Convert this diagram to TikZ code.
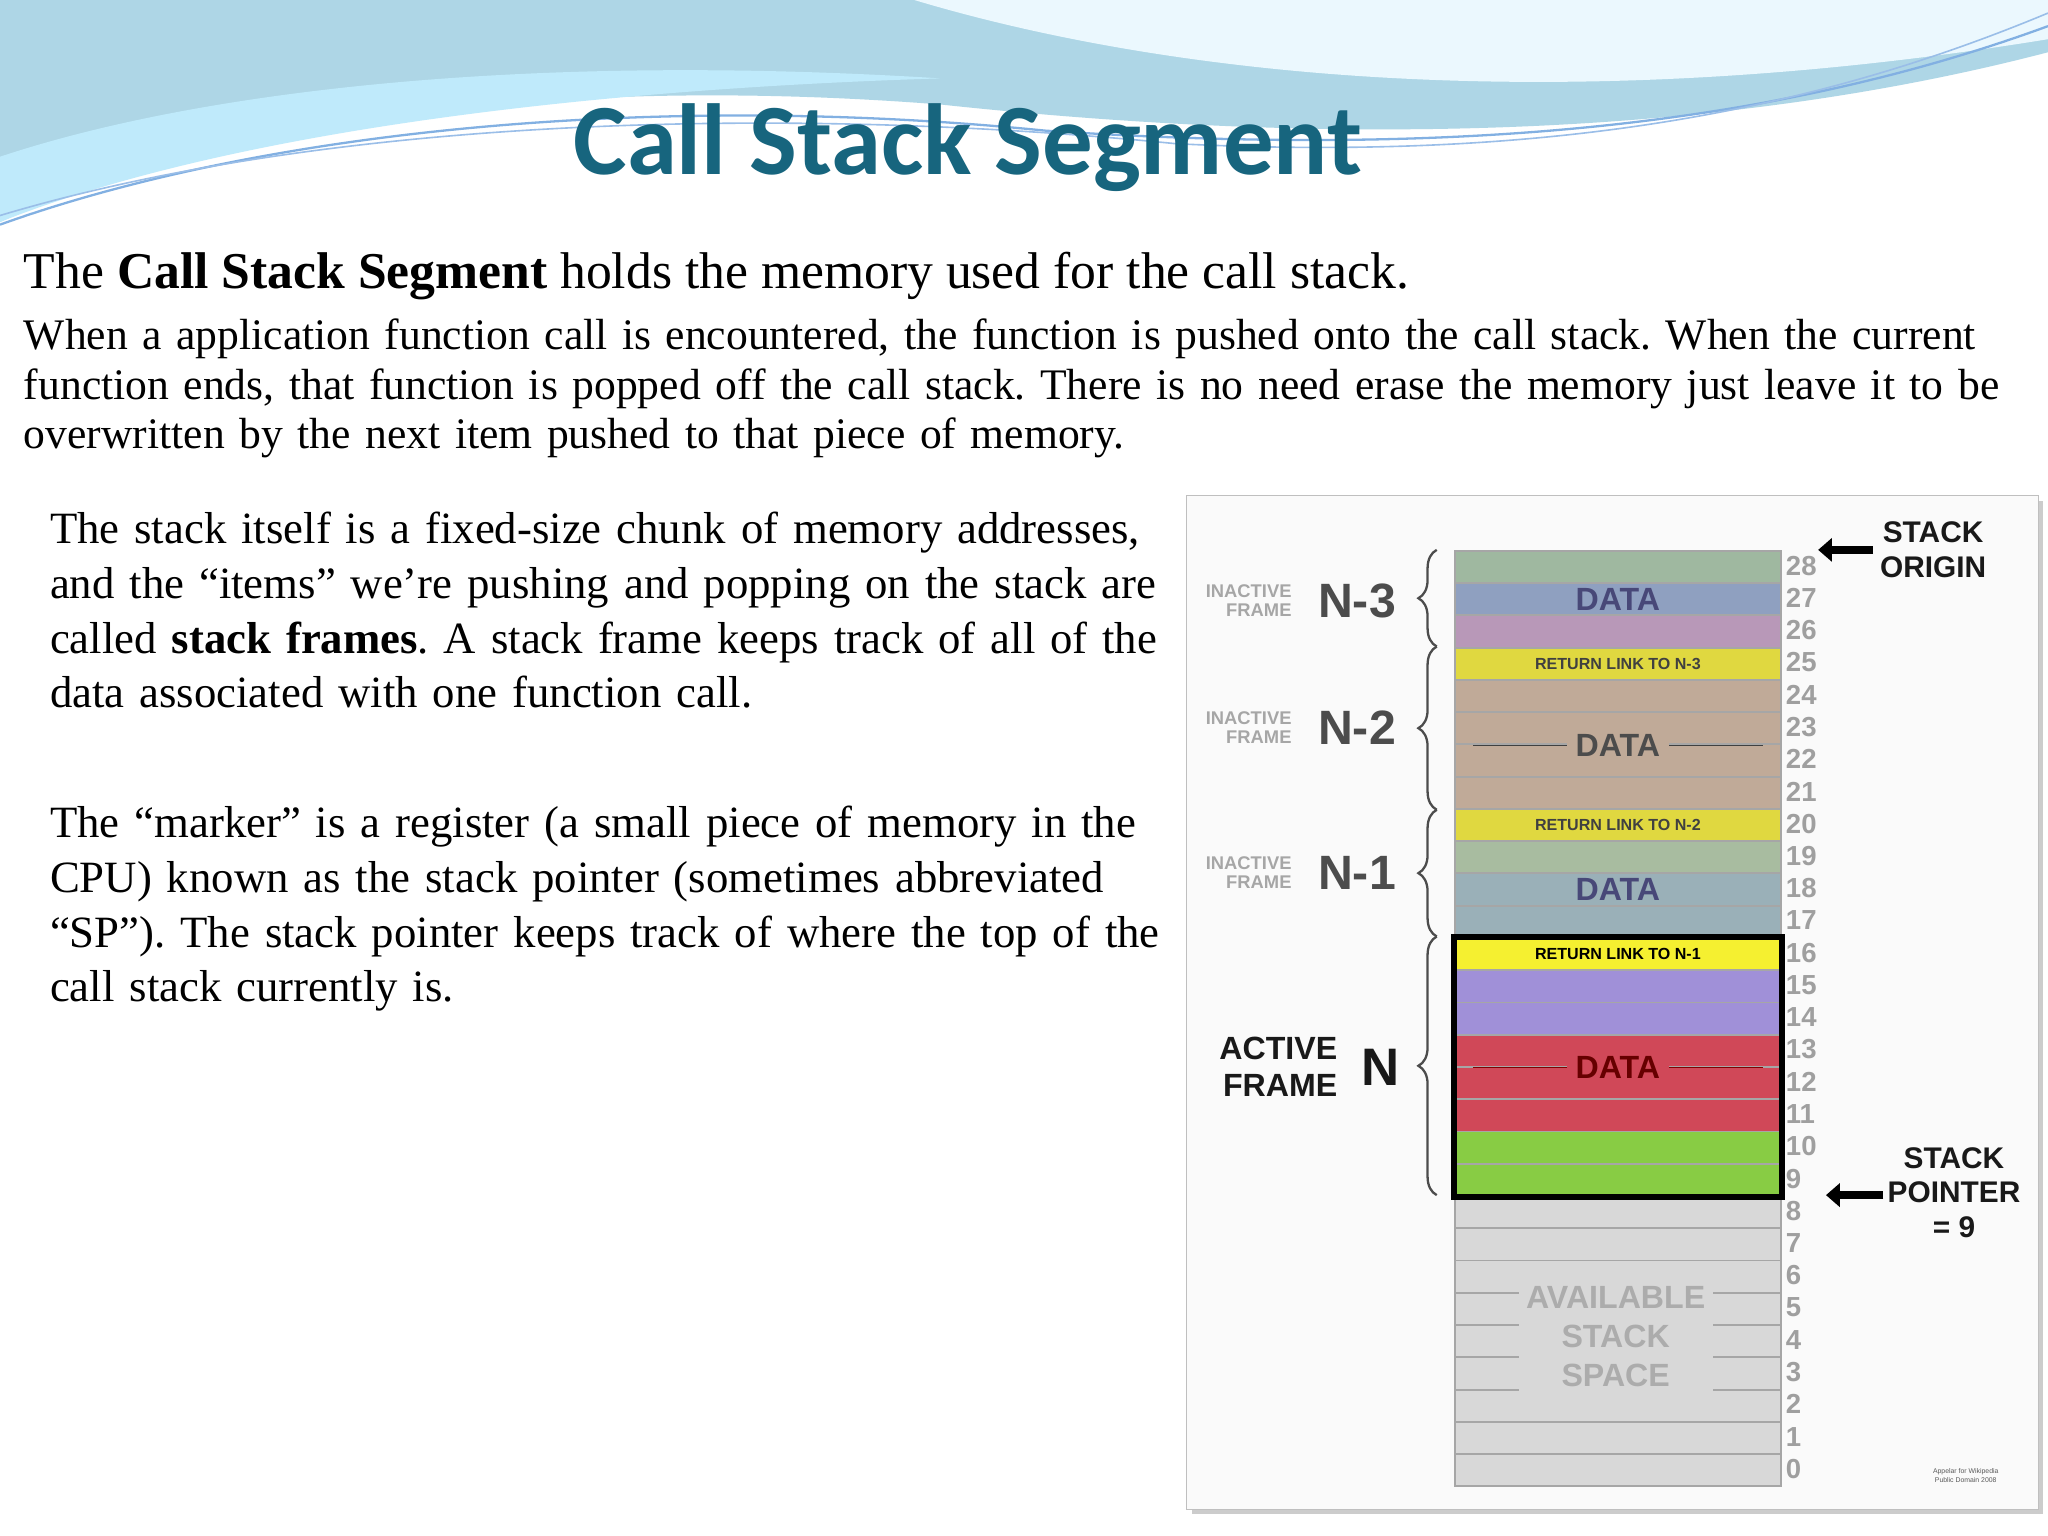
\documentclass[tikz,border=0pt]{standalone}
\usepackage{fontspec}
\setmainfont{Liberation Serif}
\newfontfamily\titlefont{Carlito}
\newfontfamily\dfont{Liberation Sans}
\usetikzlibrary{decorations.pathreplacing,arrows.meta,shadows}
\definecolor{titleblue}{HTML}{17657E}
\definecolor{avail}{HTML}{D8D8D8}
\definecolor{tanc}{HTML}{C0AA98}
\definecolor{redc}{HTML}{D04858}
\frenchspacing
\begin{document}
\begin{tikzpicture}[x=0.02cm,y=-0.02cm,
  row/.style={draw=gray!70,line width=0.8pt,minimum width=250*0.02cm,minimum height=24.7*0.02cm,inner sep=0,anchor=north west},
  num/.style={font=\dfont\bfseries\fontsize{12}{12}\selectfont,text=gray!75,anchor=west,inner sep=0},
  lbl/.style={font=\dfont\bfseries\fontsize{14}{14}\selectfont,text=gray!60!black},
  small/.style={font=\dfont\bfseries\fontsize{8}{8.5}\selectfont,text=gray!70,align=right},
  big/.style={font=\dfont\bfseries\fontsize{21}{21}\selectfont,text=gray!60!black},
  brc/.style={decorate,decoration={brace,amplitude=8pt},line width=1pt,draw=gray!60!black},
  para/.style={anchor=north west,align=left,inner sep=0}]
\useasboundingbox (0,0) rectangle (1568,1176);
\fill[white] (0,0) rectangle (1568,1176);
% waves
\fill[cyan!45!teal!35] (0,0) -- (1568,0) -- (1568,40) .. controls (1300,110) and (1000,110) .. (720,80) .. controls (400,55) and (150,100) .. (0,170) -- cycle;
\fill[cyan!8] (700,0) .. controls (900,60) and (1200,90) .. (1568,30) -- (1568,0) -- cycle;
\fill[cyan!25] (0,120) .. controls (150,70) and (400,40) .. (720,60) .. controls (400,70) and (150,110) .. (0,170) -- cycle;
\draw[cyan!60!blue!50,line width=1pt] (0,172) .. controls (200,100) and (500,70) .. (800,100) .. controls (1100,120) and (1350,100) .. (1568,20);
\draw[cyan!60!blue!40,line width=0.7pt] (0,165) .. controls (250,90) and (600,80) .. (900,110) .. controls (1200,125) and (1400,80) .. (1568,10);
\node[font=\titlefont\bfseries\fontsize{44}{44}\selectfont,text=titleblue] (title) at (741,113) {Call Stack Segment};
% text
\node[para,font=\fontsize{22.5}{27}\selectfont] (p1) at (18,193) {The \textbf{Call Stack Segment} holds the memory used for the call stack.};
\node[para,text width=1540*0.02cm,font=\fontsize{19}{21.6}\selectfont] (p2) at (18,244) {\raggedright When a application function call is encountered, the function is pushed onto the call stack. When the current function ends, that function is popped off the call stack. There is no need erase the memory just leave it to be overwritten by the next item pushed to that piece of memory.\par};
\node[para,text width=870*0.02cm,font=\fontsize{19.5}{23.8}\selectfont] (p3) at (38,392) {\raggedright The stack itself is a fixed-size chunk of memory addresses, and the ``items'' we're pushing and popping on the stack are called \textbf{stack frames}. A stack frame keeps track of all of the data associated with one function call.\par};
\node[para,text width=870*0.02cm,font=\fontsize{19.5}{23.8}\selectfont] (p4) at (38,617) {\raggedright The ``marker'' is a register (a small piece of memory in the CPU) known as the stack pointer (sometimes abbreviated ``SP''). The stack pointer keeps track of where the top of the call stack currently is.\par};
% panel
\node[draw=gray!50,fill=gray!4,minimum width=652*0.02cm,minimum height=776*0.02cm,anchor=north west,drop shadow={opacity=0.4}] (panel) at (908,379) {};
% rows
\foreach \i/\c in {28/9FB8A0,27/8FA0C0,26/B898B8,25/E0D840,24/C0AA98,23/C0AA98,22/C0AA98,21/C0AA98,20/E0D840,19/A8BCA0,18/9AB0B8,17/9AB0B8,16/F5F030,15/A090D8,14/A090D8,13/D04858,12/D04858,11/D04858,10/88CC44,9/88CC44,8/D8D8D8,7/D8D8D8,6/D8D8D8,5/D8D8D8,4/D8D8D8,3/D8D8D8,2/D8D8D8,1/D8D8D8,0/D8D8D8}{
  \definecolor{rc}{HTML}{\c}
  \node[row,fill=rc] (r\i) at (1113,{421+(28-\i)*24.7}) {};
  \node[num] (n\i) at (1367,{433+(28-\i)*24.7}) {\i};
}
\draw[line width=2.5pt] (r16.north west) rectangle (r9.south east);
% row labels
\node[lbl,text=blue!25!gray!75!black] (d3) at (r27) {DATA};
\node[font=\dfont\bfseries\fontsize{7}{7}\selectfont,text=gray!50!black] (l25) at (r25) {RETURN LINK TO N-3};
\node[font=\dfont\bfseries\fontsize{7}{7}\selectfont,text=gray!50!black] (l20) at (r20) {RETURN LINK TO N-2};
\node[font=\dfont\bfseries\fontsize{7}{7}\selectfont,text=black] (l16) at (r16) {RETURN LINK TO N-1};
\draw[gray!50!black] ([xshift=0.3cm]r23.south west) -- ([xshift=-0.3cm]r23.south east);
\node[lbl,fill=tanc,inner xsep=4pt] (d2) at (r23.south) {DATA};
\node[lbl,text=blue!25!gray!75!black] (d1) at (r18) {DATA};
\draw[red!50!black] ([xshift=0.3cm]r13.south west) -- ([xshift=-0.3cm]r13.south east);
\node[lbl,text=red!40!black,fill=redc,inner xsep=4pt] (d0) at (r13.south) {DATA};
\node[lbl,text=gray!65,align=center,fill=avail,font=\dfont\bfseries\fontsize{14}{17}\selectfont] (av) at (1237,1023) {AVAILABLE\\STACK\\SPACE};
% braces
\draw[brc] (1100,495) -- (1100,421);
\draw[brc] (1100,620) -- (1100,495);
\draw[brc] (1100,717) -- (1100,620);
\draw[brc] (1100,915) -- (1100,717);
% frame labels
\node[small,anchor=east] (i3) at (995,460) {INACTIVE\\FRAME};
\node[big,anchor=west] (f3) at (1003,460) {N-3};
\node[small,anchor=east] (i2) at (995,557) {INACTIVE\\FRAME};
\node[big,anchor=west] (f2) at (1003,557) {N-2};
\node[small,anchor=east] (i1) at (995,668) {INACTIVE\\FRAME};
\node[big,anchor=west] (f1) at (1003,668) {N-1};
\node[font=\dfont\bfseries\fontsize{14}{16}\selectfont,anchor=east,align=right,text=gray!20!black] (ia) at (1030,817) {ACTIVE\\FRAME};
\node[font=\dfont\bfseries\fontsize{23}{23}\selectfont,anchor=west,text=gray!20!black] (fa) at (1036,817) {N};
% arrows
\node[font=\dfont\bfseries\fontsize{13}{15}\selectfont,align=center,text=gray!20!black] (so) at (1480,421) {STACK\\ORIGIN};
\coordinate (soa) at (1392,421);
\draw[-{Triangle[length=6pt,width=10pt]},line width=3.5pt] (1434,421) -- (soa);
\node[font=\dfont\bfseries\fontsize{13}{15}\selectfont,align=center,text=gray!20!black] (sp) at (1496,913) {STACK\\POINTER\\= 9};
\coordinate (spa) at (1398,915);
\draw[-{Triangle[length=6pt,width=10pt]},line width=3.5pt] (1442,915) -- (spa);
\node[font=\dfont\fontsize{3}{4}\selectfont,text=gray!70!black,align=center] (cr) at (1505,1130) {Appelar for Wikipedia\\Public Domain 2008};
\end{tikzpicture}
\end{document}
